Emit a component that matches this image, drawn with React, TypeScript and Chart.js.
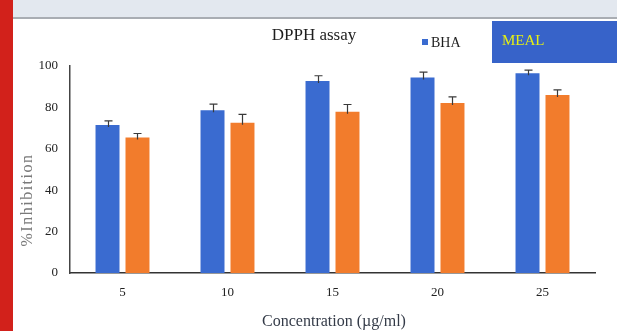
import React, { useEffect, useRef } from "react";
import { Chart, registerables } from "chart.js";
Chart.register(...registerables);

const categories = ["5", "10", "15", "20", "25"];
const bhaValues = [71.5, 78.6, 92.8, 94.5, 96.5];
const bhaErrors = [2, 3, 2.5, 2.5, 1.5];
const mealValues = [65.4, 72.6, 77.9, 82.1, 86];
const mealErrors = [2, 4, 3.5, 3, 2.5];
const seriesNames = ["BHA", "MEAL"];
const chartTitle = "DPPH assay";
const xTitle = "Concentration (µg/ml)";
const yTitle = "%Inhibition";

const BLUE = "#3a6bd0";
const ORANGE = "#f27c2c";
const SERIF = "'Liberation Serif', 'DejaVu Serif', serif";

const decorPlugin = {
  id: "decor",
  beforeDraw(chart: any) {
    const ctx = chart.ctx;
    const w = chart.width;
    const h = chart.height;
    ctx.save();
    ctx.fillStyle = "#ffffff";
    ctx.fillRect(0, 0, w, h);
    ctx.fillStyle = "#e3e8ef";
    ctx.fillRect(0, 0, w, 17);
    ctx.fillStyle = "#a9adb3";
    ctx.fillRect(0, 17, w, 2);
    ctx.fillStyle = "#3763c9";
    ctx.fillRect(492, 21, w - 492, 42);
    ctx.fillStyle = "#d2211b";
    ctx.fillRect(0, 0, 13, h);
    ctx.restore();
  },
  afterDatasetsDraw(chart: any) {
    const ctx = chart.ctx;
    const yScale = chart.scales.y;
    const errs = [bhaErrors, mealErrors];
    const vals = [bhaValues, mealValues];
    ctx.save();
    ctx.strokeStyle = "#3a3a3a";
    ctx.lineWidth = 1.2;
    for (let d = 0; d < 2; d++) {
      const meta = chart.getDatasetMeta(d);
      meta.data.forEach((el: any, i: number) => {
        const x = Math.round(el.x) + 0.5;
        const yTop = yScale.getPixelForValue(vals[d][i] + errs[d][i]);
        const yBot = yScale.getPixelForValue(vals[d][i]) + 2;
        ctx.beginPath();
        ctx.moveTo(x, yBot);
        ctx.lineTo(x, yTop);
        ctx.moveTo(x - 4, yTop);
        ctx.lineTo(x + 4, yTop);
        ctx.stroke();
      });
    }
    ctx.restore();
  },
  afterDraw(chart: any) {
    const ctx = chart.ctx;
    ctx.save();
    // title
    ctx.fillStyle = "#1e1e1e";
    ctx.font = `17px ${SERIF}`;
    ctx.textAlign = "center";
    ctx.textBaseline = "middle";
    ctx.fillText(chartTitle, 314, 36);
    // legend BHA
    ctx.fillStyle = BLUE;
    ctx.fillRect(422, 39, 6, 6);
    ctx.fillStyle = "#1e1e1e";
    ctx.font = `14px ${SERIF}`;
    ctx.textAlign = "left";
    ctx.fillText(seriesNames[0], 431, 43);
    // legend MEAL in box
    ctx.fillStyle = "#e4ef14";
    ctx.font = `15px ${SERIF}`;
    ctx.fillText(seriesNames[1], 502, 41);
    // x title
    ctx.fillStyle = "#343b48";
    ctx.font = `16px ${SERIF}`;
    ctx.textAlign = "center";
    ctx.fillText(xTitle, 334, 322);
    // y title
    ctx.translate(28, 200);
    ctx.rotate(-Math.PI / 2);
    ctx.fillStyle = "#7a7a7a";
    ctx.font = `16px ${SERIF}`;
    (ctx as any).letterSpacing = "1.5px";
    ctx.fillText(yTitle, 0, 0);
    ctx.restore();
  },
};

export default function App() {
  const ref = useRef<HTMLCanvasElement | null>(null);
  useEffect(() => {
    if (!ref.current) return;
    const chart = new Chart(ref.current, {
      type: "bar",
      data: {
        labels: categories,
        datasets: [
          { label: seriesNames[0], data: bhaValues, backgroundColor: BLUE },
          { label: seriesNames[1], data: mealValues, backgroundColor: ORANGE },
        ],
      },
      options: {
        animation: false,
        responsive: false,
        devicePixelRatio: 1,
        layout: { padding: { left: 0, right: 22, top: 66, bottom: 0 } },
        datasets: { bar: { categoryPercentage: 0.571, barPercentage: 0.8 } },
        plugins: {
          legend: { display: false },
          title: { display: false },
          tooltip: { enabled: false },
        },
        scales: {
          x: {
            grid: { display: false, drawTicks: false },
            border: { display: true, color: "#333333", width: 1.5 },
            ticks: { color: "#222222", font: { family: SERIF, size: 13 }, padding: 12 },
            afterFit: (s: any) => { s.height = 58; },
          },
          y: {
            min: 0,
            max: 100,
            grid: { display: false, drawTicks: false },
            border: { display: true, color: "#444444", width: 1.5 },
            ticks: { stepSize: 20, color: "#222222", font: { family: SERIF, size: 13 }, padding: 12 },
            afterFit: (s: any) => { s.width = 70; },
          },
        },
      },
      plugins: [decorPlugin],
    });
    return () => chart.destroy();
  }, []);
  return (
    <div style={{ position: "absolute", left: 0, top: 0, width: 617, height: 331 }}>
      <canvas ref={ref} width={617} height={331} style={{ display: "block" }} />
    </div>
  );
}
